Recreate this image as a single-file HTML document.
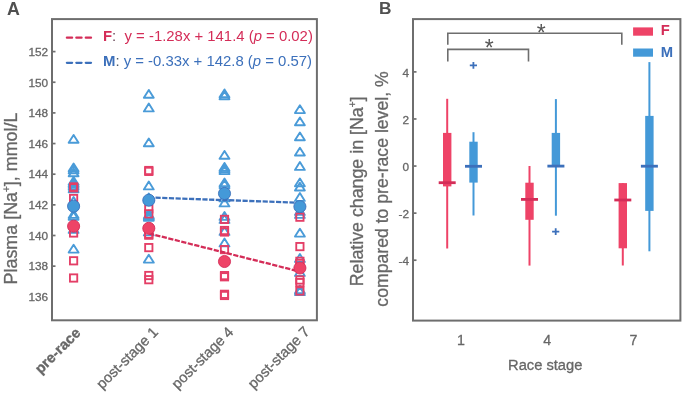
<!DOCTYPE html><html><head><meta charset="utf-8"><style>html,body{margin:0;padding:0;background:#fff;}svg{display:block;will-change:transform;}</style></head><body>
<svg width="685" height="395" viewBox="0 0 685 395" font-family='"Liberation Sans", sans-serif'>
<rect width="685" height="395" fill="#fff"/>
<line x1="52" y1="266.15" x2="55.5" y2="266.15" stroke="#6e6e6e" stroke-width="1.7"/>
<line x1="52" y1="235.50" x2="55.5" y2="235.50" stroke="#6e6e6e" stroke-width="1.7"/>
<line x1="52" y1="204.85" x2="55.5" y2="204.85" stroke="#6e6e6e" stroke-width="1.7"/>
<line x1="52" y1="174.20" x2="55.5" y2="174.20" stroke="#6e6e6e" stroke-width="1.7"/>
<line x1="52" y1="143.55" x2="55.5" y2="143.55" stroke="#6e6e6e" stroke-width="1.7"/>
<line x1="52" y1="112.90" x2="55.5" y2="112.90" stroke="#6e6e6e" stroke-width="1.7"/>
<line x1="52" y1="82.25" x2="55.5" y2="82.25" stroke="#6e6e6e" stroke-width="1.7"/>
<line x1="52" y1="51.60" x2="55.5" y2="51.60" stroke="#6e6e6e" stroke-width="1.7"/>
<text x="48.2" y="301.05" font-size="11.8" fill="#676767" stroke="#676767" stroke-width="0.3" text-anchor="end">136</text>
<text x="48.2" y="270.40" font-size="11.8" fill="#676767" stroke="#676767" stroke-width="0.3" text-anchor="end">138</text>
<text x="48.2" y="239.75" font-size="11.8" fill="#676767" stroke="#676767" stroke-width="0.3" text-anchor="end">140</text>
<text x="48.2" y="209.10" font-size="11.8" fill="#676767" stroke="#676767" stroke-width="0.3" text-anchor="end">142</text>
<text x="48.2" y="178.45" font-size="11.8" fill="#676767" stroke="#676767" stroke-width="0.3" text-anchor="end">144</text>
<text x="48.2" y="147.80" font-size="11.8" fill="#676767" stroke="#676767" stroke-width="0.3" text-anchor="end">146</text>
<text x="48.2" y="117.15" font-size="11.8" fill="#676767" stroke="#676767" stroke-width="0.3" text-anchor="end">148</text>
<text x="48.2" y="86.50" font-size="11.8" fill="#676767" stroke="#676767" stroke-width="0.3" text-anchor="end">150</text>
<text x="48.2" y="55.85" font-size="11.8" fill="#676767" stroke="#676767" stroke-width="0.3" text-anchor="end">152</text>
<path d="M73.60,134.90 L78.55,142.70 L68.65,142.70 Z" fill="none" stroke="#4a9bd8" stroke-width="1.9" stroke-linejoin="round"/>
<path d="M73.60,163.50 L78.55,171.30 L68.65,171.30 Z" fill="none" stroke="#4a9bd8" stroke-width="1.9" stroke-linejoin="round"/>
<path d="M73.60,165.50 L78.55,173.30 L68.65,173.30 Z" fill="none" stroke="#4a9bd8" stroke-width="1.9" stroke-linejoin="round"/>
<path d="M73.60,168.50 L78.55,176.30 L68.65,176.30 Z" fill="none" stroke="#4a9bd8" stroke-width="1.9" stroke-linejoin="round"/>
<path d="M73.60,176.90 L78.55,184.70 L68.65,184.70 Z" fill="none" stroke="#4a9bd8" stroke-width="1.9" stroke-linejoin="round"/>
<path d="M73.60,178.60 L78.55,186.40 L68.65,186.40 Z" fill="none" stroke="#4a9bd8" stroke-width="1.9" stroke-linejoin="round"/>
<path d="M73.60,180.10 L78.55,187.90 L68.65,187.90 Z" fill="none" stroke="#4a9bd8" stroke-width="1.9" stroke-linejoin="round"/>
<path d="M73.60,181.90 L78.55,189.70 L68.65,189.70 Z" fill="none" stroke="#4a9bd8" stroke-width="1.9" stroke-linejoin="round"/>
<path d="M73.60,184.40 L78.55,192.20 L68.65,192.20 Z" fill="none" stroke="#4a9bd8" stroke-width="1.9" stroke-linejoin="round"/>
<path d="M73.60,197.10 L78.55,204.90 L68.65,204.90 Z" fill="none" stroke="#4a9bd8" stroke-width="1.9" stroke-linejoin="round"/>
<path d="M73.60,210.10 L78.55,217.90 L68.65,217.90 Z" fill="none" stroke="#4a9bd8" stroke-width="1.9" stroke-linejoin="round"/>
<path d="M73.60,211.90 L78.55,219.70 L68.65,219.70 Z" fill="none" stroke="#4a9bd8" stroke-width="1.9" stroke-linejoin="round"/>
<path d="M73.60,225.10 L78.55,232.90 L68.65,232.90 Z" fill="none" stroke="#4a9bd8" stroke-width="1.9" stroke-linejoin="round"/>
<path d="M73.60,244.80 L78.55,252.60 L68.65,252.60 Z" fill="none" stroke="#4a9bd8" stroke-width="1.9" stroke-linejoin="round"/>
<rect x="69.95" y="183.25" width="7.3" height="7.3" fill="none" stroke="#e43e66" stroke-width="1.85"/>
<rect x="69.95" y="184.15" width="7.3" height="7.3" fill="none" stroke="#e43e66" stroke-width="1.85"/>
<rect x="69.95" y="194.85" width="7.3" height="7.3" fill="none" stroke="#e43e66" stroke-width="1.85"/>
<rect x="69.95" y="229.35" width="7.3" height="7.3" fill="none" stroke="#e43e66" stroke-width="1.85"/>
<rect x="69.95" y="257.15" width="7.3" height="7.3" fill="none" stroke="#e43e66" stroke-width="1.85"/>
<rect x="69.95" y="274.35" width="7.3" height="7.3" fill="none" stroke="#e43e66" stroke-width="1.85"/>
<path d="M148.80,89.90 L153.75,97.70 L143.85,97.70 Z" fill="none" stroke="#4a9bd8" stroke-width="1.9" stroke-linejoin="round"/>
<path d="M148.80,103.60 L153.75,111.40 L143.85,111.40 Z" fill="none" stroke="#4a9bd8" stroke-width="1.9" stroke-linejoin="round"/>
<path d="M148.80,138.50 L153.75,146.30 L143.85,146.30 Z" fill="none" stroke="#4a9bd8" stroke-width="1.9" stroke-linejoin="round"/>
<path d="M148.80,181.60 L153.75,189.40 L143.85,189.40 Z" fill="none" stroke="#4a9bd8" stroke-width="1.9" stroke-linejoin="round"/>
<path d="M148.80,193.60 L153.75,201.40 L143.85,201.40 Z" fill="none" stroke="#4a9bd8" stroke-width="1.9" stroke-linejoin="round"/>
<path d="M148.80,210.50 L153.75,218.30 L143.85,218.30 Z" fill="none" stroke="#4a9bd8" stroke-width="1.9" stroke-linejoin="round"/>
<path d="M148.80,211.80 L153.75,219.60 L143.85,219.60 Z" fill="none" stroke="#4a9bd8" stroke-width="1.9" stroke-linejoin="round"/>
<path d="M148.80,213.00 L153.75,220.80 L143.85,220.80 Z" fill="none" stroke="#4a9bd8" stroke-width="1.9" stroke-linejoin="round"/>
<path d="M148.80,227.60 L153.75,235.40 L143.85,235.40 Z" fill="none" stroke="#4a9bd8" stroke-width="1.9" stroke-linejoin="round"/>
<path d="M148.80,254.80 L153.75,262.60 L143.85,262.60 Z" fill="none" stroke="#4a9bd8" stroke-width="1.9" stroke-linejoin="round"/>
<rect x="145.15" y="166.85" width="7.3" height="7.3" fill="none" stroke="#e43e66" stroke-width="1.85"/>
<rect x="145.15" y="167.75" width="7.3" height="7.3" fill="none" stroke="#e43e66" stroke-width="1.85"/>
<rect x="145.15" y="205.15" width="7.3" height="7.3" fill="none" stroke="#e43e66" stroke-width="1.85"/>
<rect x="145.15" y="210.15" width="7.3" height="7.3" fill="none" stroke="#e43e66" stroke-width="1.85"/>
<rect x="145.15" y="230.55" width="7.3" height="7.3" fill="none" stroke="#e43e66" stroke-width="1.85"/>
<rect x="145.15" y="231.55" width="7.3" height="7.3" fill="none" stroke="#e43e66" stroke-width="1.85"/>
<rect x="145.15" y="243.95" width="7.3" height="7.3" fill="none" stroke="#e43e66" stroke-width="1.85"/>
<rect x="145.15" y="271.85" width="7.3" height="7.3" fill="none" stroke="#e43e66" stroke-width="1.85"/>
<rect x="145.15" y="276.05" width="7.3" height="7.3" fill="none" stroke="#e43e66" stroke-width="1.85"/>
<path d="M224.50,89.40 L229.45,97.20 L219.55,97.20 Z" fill="none" stroke="#4a9bd8" stroke-width="1.9" stroke-linejoin="round"/>
<path d="M224.50,91.40 L229.45,99.20 L219.55,99.20 Z" fill="none" stroke="#4a9bd8" stroke-width="1.9" stroke-linejoin="round"/>
<path d="M224.50,150.90 L229.45,158.70 L219.55,158.70 Z" fill="none" stroke="#4a9bd8" stroke-width="1.9" stroke-linejoin="round"/>
<path d="M224.50,162.90 L229.45,170.70 L219.55,170.70 Z" fill="none" stroke="#4a9bd8" stroke-width="1.9" stroke-linejoin="round"/>
<path d="M224.50,164.50 L229.45,172.30 L219.55,172.30 Z" fill="none" stroke="#4a9bd8" stroke-width="1.9" stroke-linejoin="round"/>
<path d="M224.50,166.30 L229.45,174.10 L219.55,174.10 Z" fill="none" stroke="#4a9bd8" stroke-width="1.9" stroke-linejoin="round"/>
<path d="M224.50,178.50 L229.45,186.30 L219.55,186.30 Z" fill="none" stroke="#4a9bd8" stroke-width="1.9" stroke-linejoin="round"/>
<path d="M224.50,180.30 L229.45,188.10 L219.55,188.10 Z" fill="none" stroke="#4a9bd8" stroke-width="1.9" stroke-linejoin="round"/>
<path d="M224.50,193.60 L229.45,201.40 L219.55,201.40 Z" fill="none" stroke="#4a9bd8" stroke-width="1.9" stroke-linejoin="round"/>
<path d="M224.50,198.60 L229.45,206.40 L219.55,206.40 Z" fill="none" stroke="#4a9bd8" stroke-width="1.9" stroke-linejoin="round"/>
<path d="M224.50,212.10 L229.45,219.90 L219.55,219.90 Z" fill="none" stroke="#4a9bd8" stroke-width="1.9" stroke-linejoin="round"/>
<path d="M224.50,215.10 L229.45,222.90 L219.55,222.90 Z" fill="none" stroke="#4a9bd8" stroke-width="1.9" stroke-linejoin="round"/>
<path d="M224.50,227.10 L229.45,234.90 L219.55,234.90 Z" fill="none" stroke="#4a9bd8" stroke-width="1.9" stroke-linejoin="round"/>
<path d="M224.50,238.60 L229.45,246.40 L219.55,246.40 Z" fill="none" stroke="#4a9bd8" stroke-width="1.9" stroke-linejoin="round"/>
<rect x="220.85" y="215.75" width="7.3" height="7.3" fill="none" stroke="#e43e66" stroke-width="1.85"/>
<rect x="220.85" y="226.85" width="7.3" height="7.3" fill="none" stroke="#e43e66" stroke-width="1.85"/>
<rect x="220.85" y="228.35" width="7.3" height="7.3" fill="none" stroke="#e43e66" stroke-width="1.85"/>
<rect x="220.85" y="245.95" width="7.3" height="7.3" fill="none" stroke="#e43e66" stroke-width="1.85"/>
<rect x="220.85" y="271.95" width="7.3" height="7.3" fill="none" stroke="#e43e66" stroke-width="1.85"/>
<rect x="220.85" y="273.15" width="7.3" height="7.3" fill="none" stroke="#e43e66" stroke-width="1.85"/>
<rect x="220.85" y="290.65" width="7.3" height="7.3" fill="none" stroke="#e43e66" stroke-width="1.85"/>
<rect x="220.85" y="291.85" width="7.3" height="7.3" fill="none" stroke="#e43e66" stroke-width="1.85"/>
<path d="M299.90,105.30 L304.85,113.10 L294.95,113.10 Z" fill="none" stroke="#4a9bd8" stroke-width="1.9" stroke-linejoin="round"/>
<path d="M299.90,117.40 L304.85,125.20 L294.95,125.20 Z" fill="none" stroke="#4a9bd8" stroke-width="1.9" stroke-linejoin="round"/>
<path d="M299.90,132.50 L304.85,140.30 L294.95,140.30 Z" fill="none" stroke="#4a9bd8" stroke-width="1.9" stroke-linejoin="round"/>
<path d="M299.90,147.70 L304.85,155.50 L294.95,155.50 Z" fill="none" stroke="#4a9bd8" stroke-width="1.9" stroke-linejoin="round"/>
<path d="M299.90,162.10 L304.85,169.90 L294.95,169.90 Z" fill="none" stroke="#4a9bd8" stroke-width="1.9" stroke-linejoin="round"/>
<path d="M299.90,178.50 L304.85,186.30 L294.95,186.30 Z" fill="none" stroke="#4a9bd8" stroke-width="1.9" stroke-linejoin="round"/>
<path d="M299.90,182.70 L304.85,190.50 L294.95,190.50 Z" fill="none" stroke="#4a9bd8" stroke-width="1.9" stroke-linejoin="round"/>
<path d="M299.90,193.10 L304.85,200.90 L294.95,200.90 Z" fill="none" stroke="#4a9bd8" stroke-width="1.9" stroke-linejoin="round"/>
<path d="M299.90,207.10 L304.85,214.90 L294.95,214.90 Z" fill="none" stroke="#4a9bd8" stroke-width="1.9" stroke-linejoin="round"/>
<path d="M299.90,210.10 L304.85,217.90 L294.95,217.90 Z" fill="none" stroke="#4a9bd8" stroke-width="1.9" stroke-linejoin="round"/>
<path d="M299.90,228.80 L304.85,236.60 L294.95,236.60 Z" fill="none" stroke="#4a9bd8" stroke-width="1.9" stroke-linejoin="round"/>
<path d="M299.90,254.10 L304.85,261.90 L294.95,261.90 Z" fill="none" stroke="#4a9bd8" stroke-width="1.9" stroke-linejoin="round"/>
<path d="M299.90,268.10 L304.85,275.90 L294.95,275.90 Z" fill="none" stroke="#4a9bd8" stroke-width="1.9" stroke-linejoin="round"/>
<path d="M299.90,285.50 L304.85,293.30 L294.95,293.30 Z" fill="none" stroke="#4a9bd8" stroke-width="1.9" stroke-linejoin="round"/>
<path d="M299.90,287.30 L304.85,295.10 L294.95,295.10 Z" fill="none" stroke="#4a9bd8" stroke-width="1.9" stroke-linejoin="round"/>
<rect x="296.25" y="213.55" width="7.3" height="7.3" fill="none" stroke="#e43e66" stroke-width="1.85"/>
<rect x="296.25" y="242.95" width="7.3" height="7.3" fill="none" stroke="#e43e66" stroke-width="1.85"/>
<rect x="296.25" y="257.65" width="7.3" height="7.3" fill="none" stroke="#e43e66" stroke-width="1.85"/>
<rect x="296.25" y="259.85" width="7.3" height="7.3" fill="none" stroke="#e43e66" stroke-width="1.85"/>
<rect x="296.25" y="276.35" width="7.3" height="7.3" fill="none" stroke="#e43e66" stroke-width="1.85"/>
<rect x="296.25" y="278.95" width="7.3" height="7.3" fill="none" stroke="#e43e66" stroke-width="1.85"/>
<rect x="296.25" y="287.35" width="7.3" height="7.3" fill="none" stroke="#e43e66" stroke-width="1.85"/>
<rect x="146.1" y="211.1" width="5.4" height="5.4" fill="#4a9bd8"/>
<line x1="148.8" y1="233.4" x2="299.9" y2="271.6" stroke="#d42d58" stroke-width="2.3" stroke-dasharray="5.2 1.5"/>
<line x1="148.8" y1="197.4" x2="299.9" y2="202.8" stroke="#3c70bb" stroke-width="2.3" stroke-dasharray="5.2 1.5"/>
<circle cx="73.6" cy="206.2" r="6.05" fill="#4499d8" stroke="#3c70bb" stroke-width="0.9"/>
<circle cx="148.8" cy="200.2" r="6.05" fill="#4499d8" stroke="#3c70bb" stroke-width="0.9"/>
<circle cx="224.5" cy="193.5" r="6.05" fill="#4499d8" stroke="#3c70bb" stroke-width="0.9"/>
<circle cx="299.9" cy="206.6" r="6.05" fill="#4499d8" stroke="#3c70bb" stroke-width="0.9"/>
<circle cx="73.6" cy="226.2" r="6.05" fill="#ee4367" stroke="#d42d58" stroke-width="0.9"/>
<circle cx="148.8" cy="228.3" r="6.05" fill="#ee4367" stroke="#d42d58" stroke-width="0.9"/>
<circle cx="224.5" cy="261.5" r="6.05" fill="#ee4367" stroke="#d42d58" stroke-width="0.9"/>
<circle cx="299.9" cy="268.0" r="6.05" fill="#ee4367" stroke="#d42d58" stroke-width="0.9"/>
<line x1="66.9" y1="37.7" x2="91.2" y2="37.7" stroke="#d42d58" stroke-width="2.3" stroke-linecap="round" stroke-dasharray="5.2 4.25"/>
<line x1="66.9" y1="62.8" x2="91.2" y2="62.8" stroke="#3c70bb" stroke-width="2.3" stroke-linecap="round" stroke-dasharray="5.2 4.25"/>
<text x="103" y="41" font-size="14.9" fill="#d42d58"><tspan font-weight="bold">F</tspan><tspan fill="#6a4a5a">:</tspan>&#160; y = -1.28x + 141.4 (<tspan font-style="italic">p</tspan> = 0.02)</text>
<text x="103" y="66.1" font-size="14.9" fill="#3c70bb"><tspan font-weight="bold">M</tspan><tspan fill="#4a5a6a">:</tspan> y = -0.33x + 142.8 (<tspan font-style="italic">p</tspan> = 0.57)</text>
<rect x="52" y="19.1" width="264.90" height="301.20" fill="none" stroke="#6e6e6e" stroke-width="2"/>
<text transform="translate(17.1,198.5) rotate(-90)" font-size="17.9" fill="#676767" stroke="#676767" stroke-width="0.3" text-anchor="middle">Plasma [Na<tspan font-size="10" dy="-7">+</tspan><tspan dy="7">], mmol/L</tspan></text>
<text transform="translate(81.4,333.8) rotate(-45)" font-size="14.6" font-weight="bold" fill="#676767" stroke="#676767" stroke-width="0.3" text-anchor="end">pre-race</text>
<text transform="translate(159.1,333) rotate(-45)" font-size="14.6" font-weight="normal" fill="#676767" stroke="#676767" stroke-width="0.3" text-anchor="end">post-stage 1</text>
<text transform="translate(234.3,333) rotate(-45)" font-size="14.6" font-weight="normal" fill="#676767" stroke="#676767" stroke-width="0.3" text-anchor="end">post-stage 4</text>
<text transform="translate(310.5,332.6) rotate(-45)" font-size="14.6" font-weight="normal" fill="#676767" stroke="#676767" stroke-width="0.3" text-anchor="end">post-stage 7</text>
<text x="7" y="14.5" font-size="17.8" font-weight="bold" fill="#505050">A</text>
<line x1="413" y1="260.21" x2="416.5" y2="260.21" stroke="#6e6e6e" stroke-width="1.7"/>
<text x="409" y="264.91" font-size="11.8" fill="#676767" stroke="#676767" stroke-width="0.3" text-anchor="end">-4</text>
<line x1="413" y1="213.13" x2="416.5" y2="213.13" stroke="#6e6e6e" stroke-width="1.7"/>
<text x="409" y="217.83" font-size="11.8" fill="#676767" stroke="#676767" stroke-width="0.3" text-anchor="end">-2</text>
<line x1="413" y1="166.05" x2="416.5" y2="166.05" stroke="#6e6e6e" stroke-width="1.7"/>
<text x="409" y="170.75" font-size="11.8" fill="#676767" stroke="#676767" stroke-width="0.3" text-anchor="end">0</text>
<line x1="413" y1="118.97" x2="416.5" y2="118.97" stroke="#6e6e6e" stroke-width="1.7"/>
<text x="409" y="123.67" font-size="11.8" fill="#676767" stroke="#676767" stroke-width="0.3" text-anchor="end">2</text>
<line x1="413" y1="71.89" x2="416.5" y2="71.89" stroke="#6e6e6e" stroke-width="1.7"/>
<text x="409" y="76.59" font-size="11.8" fill="#676767" stroke="#676767" stroke-width="0.3" text-anchor="end">4</text>
<line x1="447.2" y1="98.8" x2="447.2" y2="248.5" stroke="#ee4367" stroke-width="2"/><rect x="443.00" y="132.9" width="8.4" height="53.50" fill="#ee4367"/><rect x="438.70" y="181.30" width="17" height="2.8" fill="#d42d58"/>
<line x1="473.5" y1="132.2" x2="473.5" y2="215.5" stroke="#4499d8" stroke-width="2"/><rect x="469.30" y="141.7" width="8.4" height="40.90" fill="#4499d8"/><rect x="465.00" y="164.90" width="17" height="2.8" fill="#3c70bb"/>
<line x1="529.5" y1="166.0" x2="529.5" y2="265.6" stroke="#ee4367" stroke-width="2"/><rect x="525.30" y="182.7" width="8.4" height="37.10" fill="#ee4367"/><rect x="521.00" y="198.00" width="17" height="2.8" fill="#d42d58"/>
<line x1="555.9" y1="99.1" x2="555.9" y2="215.7" stroke="#4499d8" stroke-width="2"/><rect x="551.70" y="132.9" width="8.4" height="33.20" fill="#4499d8"/><rect x="547.40" y="164.70" width="17" height="2.8" fill="#3c70bb"/>
<line x1="622.8" y1="183.1" x2="622.8" y2="265.5" stroke="#ee4367" stroke-width="2"/><rect x="618.60" y="183.1" width="8.4" height="65.20" fill="#ee4367"/><rect x="614.30" y="198.60" width="17" height="2.8" fill="#d42d58"/>
<line x1="649.4" y1="62.1" x2="649.4" y2="251.3" stroke="#4499d8" stroke-width="2"/><rect x="645.20" y="115.9" width="8.4" height="95.00" fill="#4499d8"/><rect x="640.90" y="164.80" width="17" height="2.8" fill="#3c70bb"/>
<path d="M469.80,65.4 H477.00 M473.4,62.10 V68.70" stroke="#3c70bb" stroke-width="1.8" fill="none"/>
<path d="M552.10,231.6 H559.30 M555.7,228.30 V234.90" stroke="#3c70bb" stroke-width="1.8" fill="none"/>
<path d="M447.8,44.8 V33.3 H621.8 V44.8" fill="none" stroke="#6e6e6e" stroke-width="1.6"/>
<path d="M447.8,61.4 V49.4 H528.5 V61.4" fill="none" stroke="#6e6e6e" stroke-width="1.6"/>
<text x="541.3" y="40.6" font-size="23" fill="#555" text-anchor="middle">*</text>
<text x="489.2" y="56.4" font-size="23" fill="#555" text-anchor="middle">*</text>
<rect x="633.1" y="27.4" width="19.9" height="8.3" fill="#ee4367"/>
<rect x="633.1" y="48.5" width="19.9" height="8.2" fill="#4499d8"/>
<text x="660.8" y="35" font-size="14.8" font-weight="bold" fill="#d42d58">F</text>
<text x="660.8" y="57.2" font-size="14.8" font-weight="bold" fill="#3c70bb">M</text>
<rect x="413" y="19.1" width="267.40" height="301.50" fill="none" stroke="#6e6e6e" stroke-width="2"/>
<text x="460.9" y="344.6" font-size="14.2" fill="#676767" stroke="#676767" stroke-width="0.3" text-anchor="middle">1</text>
<text x="547.2" y="344.6" font-size="14.2" fill="#676767" stroke="#676767" stroke-width="0.3" text-anchor="middle">4</text>
<text x="633.5" y="344.6" font-size="14.2" fill="#676767" stroke="#676767" stroke-width="0.3" text-anchor="middle">7</text>
<text x="545.2" y="370.4" font-size="14.7" fill="#676767" stroke="#676767" stroke-width="0.3" text-anchor="middle">Race stage</text>
<text transform="translate(362.9,191.4) rotate(-90)" font-size="17.8" fill="#676767" stroke="#676767" stroke-width="0.3" text-anchor="middle">Relative change in [Na<tspan font-size="10" dy="-7">+</tspan><tspan dy="7">]</tspan></text>
<text transform="translate(388.2,189) rotate(-90)" font-size="17.65" fill="#676767" stroke="#676767" stroke-width="0.3" text-anchor="middle">compared to pre-race level, %</text>
<text x="379" y="14" font-size="17.3" font-weight="bold" fill="#505050">B</text>
</svg></body></html>
